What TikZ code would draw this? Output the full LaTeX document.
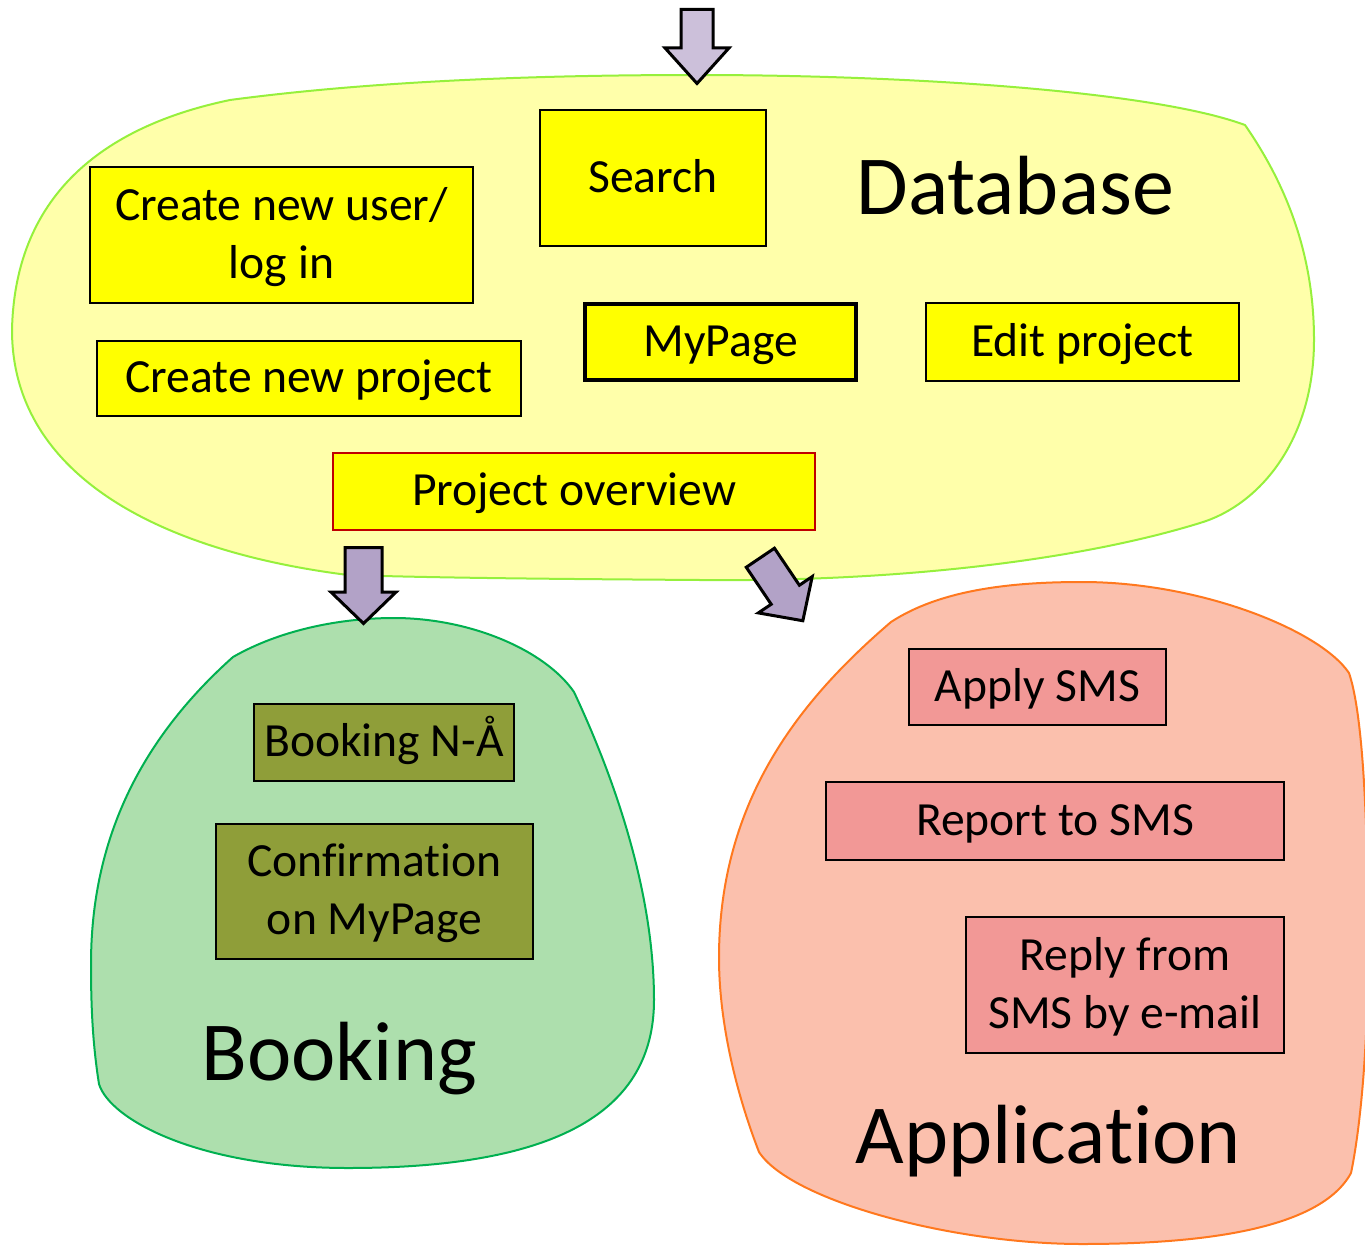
\documentclass[tikz,border=0pt]{standalone}
\usepackage{fontspec}
\setmainfont{Carlito}[Ligatures=NoCommon]
\usetikzlibrary{shapes.arrows}

\definecolor{dbfill}{RGB}{255,255,170}
\definecolor{dbline}{RGB}{150,240,60}
\definecolor{dbboxfill}{RGB}{255,255,0}
\definecolor{bookfill}{RGB}{173,223,173}
\definecolor{bookline}{RGB}{0,176,80}
\definecolor{bookboxfill}{RGB}{143,158,57}
\definecolor{appfill}{RGB}{251,192,173}
\definecolor{appline}{RGB}{255,120,30}
\definecolor{appboxfill}{RGB}{242,152,150}
\definecolor{overviewline}{RGB}{192,0,0}
\definecolor{toparrow}{RGB}{204,192,218}
\definecolor{lowarrow}{RGB}{178,162,199}

\begin{document}
\begin{tikzpicture}[
    x=0.5pt, y=-0.5pt,
    box/.style={draw, line width=1pt, inner sep=0pt, align=center, font=\fontsize{23.8}{29}\selectfont},
    oneline/.style={text height=19pt, text depth=4.8pt},
    twoline/.style={text height=48pt, text depth=4.8pt},
    dbbox/.style={box, fill=dbboxfill},
    bookbox/.style={box, fill=bookboxfill},
    appbox/.style={box, fill=appboxfill},
    bigtext/.style={font=\fontsize{42}{50}\selectfont, anchor=base west, inner sep=0pt},
    blockarrow/.style={single arrow, draw, line width=1.5pt, inner xsep=0pt, anchor=tail}
    ]

    \useasboundingbox (0,0) rectangle (1365,1246);
    \clip (0,0) rectangle (1365,1246);

    % Database
    \draw[fill=dbfill, draw=dbline, line width=1pt]
    (1245,125) .. controls (1290,190) and (1314,260) .. (1314,340)
    .. controls (1314,440) and (1260,505) .. (1200,523)
    .. controls (1080,560) and (900,582) .. (700,580)
    .. controls (560,579) and (440,578) .. (348,575)
    .. controls (150,550) and (12,470) .. (12,330)
    .. controls (15,190) and (110,125) .. (230,100)
    .. controls (380,80) and (550,75) .. (697,75)
    .. controls (900,75) and (1150,90) .. (1245,125) -- cycle;

    % Booking
    \draw[fill=bookfill, draw=bookline, line width=1pt]
    (394,618) .. controls (470,618) and (545,650) .. (574,692)
    .. controls (620,790) and (654,900) .. (654,1000)
    .. controls (654,1110) and (560,1168) .. (348,1168)
    .. controls (200,1168) and (110,1120) .. (99,1084)
    .. controls (92,1040) and (91,1000) .. (91,964)
    .. controls (91,840) and (140,740) .. (233,657)
    .. controls (280,630) and (340,618) .. (394,618) -- cycle;

    % Application
    \draw[fill=appfill, draw=appline, line width=1pt]
    (891,622) .. controls (940,590) and (1010,582) .. (1082,582)
    .. controls (1200,582) and (1320,630) .. (1349,673)
    .. controls (1365,720) and (1368,850) .. (1368,950)
    .. controls (1368,1050) and (1360,1130) .. (1351,1173)
    .. controls (1320,1230) and (1200,1244) .. (1082,1244)
    .. controls (950,1244) and (790,1200) .. (759,1152)
    .. controls (735,1090) and (719,1020) .. (719,958)
    .. controls (719,800) and (800,700) .. (891,622) -- cycle;

    \node[dbbox, oneline, minimum width=113pt, minimum height=68pt] (search) at (653,178) {Search};
    \node[dbbox, twoline, minimum width=191.5pt, minimum height=68pt] (newuser) at (281.5,235) {Create new user/\\log in};
    \node[dbbox, oneline, minimum width=212pt, minimum height=37.5pt] (newproject) at (309,378.5) {Create new project};
    \node[dbbox, oneline, line width=2pt, minimum width=135.5pt, minimum height=38pt] (mypage) at (720.5,342) {MyPage};
    \node[dbbox, oneline, minimum width=156.5pt, minimum height=39pt] (editproject) at (1082.5,342) {Edit project};
    \node[dbbox, oneline, draw=overviewline, minimum width=241pt, minimum height=38.5pt] (overview) at (574,491.5) {Project overview};
    \node[bigtext] (database) at (856,215) {Database};

    \node[bookbox, oneline, minimum width=130pt, minimum height=38.5pt] (bookingna) at (384,742.5) {Booking N-Å};
    \node[bookbox, twoline, minimum width=158.5pt, minimum height=67.5pt] (confirm) at (374.5,891.5) {Confirmation\\on MyPage};
    \node[bigtext] (booking) at (201,1080) {Booking};

    \node[appbox, oneline, minimum width=128.5pt, minimum height=38pt] (apply) at (1037.5,687) {Apply SMS};
    \node[appbox, oneline, minimum width=229pt, minimum height=39pt] (report) at (1055,821) {Report to SMS};
    \node[appbox, twoline, minimum width=159pt, minimum height=68pt] (reply) at (1125,985) {Reply from\\SMS by e-mail};
    \node[bigtext] (application) at (855,1163) {Application};

    \node[blockarrow, fill=toparrow, inner ysep=7.25pt, single arrow head extend=8pt,
      single arrow tip angle=84, minimum height=37pt, rotate=-90] (arrowin) at (697,8) {};
    \node[blockarrow, fill=lowarrow, inner ysep=8.5pt, single arrow head extend=7pt,
      single arrow tip angle=92, minimum height=38pt, rotate=-90] (arrowbook) at (363.5,546) {};
    \node[blockarrow, fill=lowarrow, inner ysep=7.75pt, single arrow head extend=7.75pt,
      single arrow tip angle=92, minimum height=38pt, rotate=-56] (arrowapp) at (759.5,556.5) {};

\end{tikzpicture}
\end{document}
